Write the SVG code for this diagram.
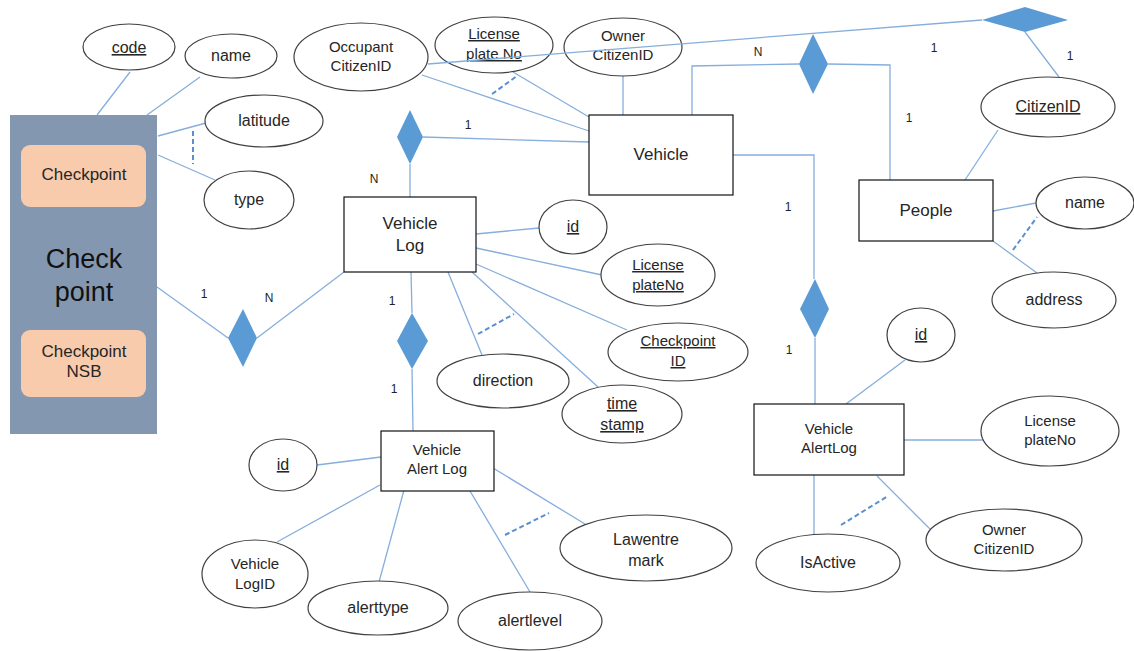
<svg xmlns="http://www.w3.org/2000/svg" width="1134" height="651" viewBox="0 0 1134 651">
<style>
text{font-family:"Liberation Sans",Arial,sans-serif;fill:#262626;text-anchor:middle}
.a{font-size:16px}
.e{font-size:17px}
.s{font-size:15px}
.l{font-size:12px;fill:#222}
.u{text-decoration:underline}
ellipse{fill:#fff;stroke:#404040;stroke-width:1.2}
rect.ent{fill:#fff;stroke:#111;stroke-width:1.2}
.c line,.c polyline{stroke:#86aedc;stroke-width:1.3;fill:none}
.c .d{stroke:#5b8fcf;stroke-width:2;stroke-dasharray:5 3}
.dia{fill:#5b9bd5}
</style>
<rect width="1134" height="651" fill="#fff"/>
<g class="c" id="connectors">
<line x1="97" y1="115" x2="130" y2="72"/>
<line x1="147" y1="115" x2="200" y2="77"/>
<line x1="158" y1="136" x2="206" y2="123"/>
<line x1="158" y1="155" x2="215" y2="180"/>
<line class="d" x1="193" y1="131" x2="193" y2="164"/>
<line x1="422" y1="75" x2="589" y2="131"/>
<line x1="513" y1="72" x2="589" y2="117"/>
<line class="d" x1="492" y1="94" x2="517" y2="76"/>
<line x1="623" y1="76" x2="623" y2="115"/>
<line x1="423" y1="137" x2="589" y2="142"/>
<line x1="410" y1="164" x2="410" y2="197"/>
<polyline points="692,115 692,66 799,64"/>
<polyline points="828,64 890,65 890,180"/>
<polyline points="733,155 814,155 814,279"/>
<line x1="815" y1="338" x2="815" y2="404"/>
<line x1="1025" y1="32" x2="1059" y2="77"/>
<line x1="998" y1="130" x2="965" y2="180"/>
<line x1="993" y1="211" x2="1036" y2="203"/>
<line x1="993" y1="241" x2="1037" y2="273"/>
<line class="d" x1="1013" y1="250" x2="1037" y2="217"/>
<line x1="476" y1="234" x2="539" y2="228"/>
<line x1="476" y1="248" x2="602" y2="275"/>
<line x1="476" y1="264" x2="627" y2="330"/>
<line x1="472" y1="272" x2="598" y2="387"/>
<line x1="448" y1="272" x2="482" y2="355"/>
<line class="d" x1="478" y1="334" x2="514" y2="314"/>
<line x1="157" y1="287" x2="228" y2="338"/>
<line x1="257" y1="338" x2="344" y2="272"/>
<line x1="411" y1="272" x2="412" y2="313"/>
<line x1="412" y1="369" x2="413" y2="431"/>
<line x1="317" y1="465" x2="381" y2="457"/>
<line x1="277" y1="542" x2="380" y2="485"/>
<line x1="379" y1="582" x2="404" y2="490"/>
<line x1="530" y1="592" x2="470" y2="491"/>
<line x1="493" y1="468" x2="585" y2="524"/>
<line class="d" x1="505" y1="535" x2="549" y2="513"/>
<line x1="846" y1="404" x2="905" y2="360"/>
<line x1="904" y1="440" x2="992" y2="440"/>
<line x1="814" y1="475" x2="814" y2="534"/>
<line x1="877" y1="476" x2="936" y2="535"/>
<line class="d" x1="841" y1="525" x2="888" y2="496"/>
<text class="l" x="468" y="129">1</text>
<text class="l" x="374" y="183">N</text>
<text class="l" x="758" y="56">N</text>
<text class="l" x="934" y="52">1</text>
<text class="l" x="1070" y="60">1</text>
<text class="l" x="909" y="122">1</text>
<text class="l" x="788" y="211">1</text>
<text class="l" x="789" y="354">1</text>
<text class="l" x="204" y="298">1</text>
<text class="l" x="269" y="302">N</text>
<text class="l" x="392" y="305">1</text>
<text class="l" x="394" y="393">1</text>
</g>
<g id="checkpoint">
<rect x="10" y="115" width="147" height="319" fill="#8497b0"/>
<rect x="21" y="145" width="125" height="62" rx="9" fill="#f8cbad"/>
<text class="e" x="84" y="180">Checkpoint</text>
<rect x="21" y="330" width="125" height="67" rx="9" fill="#f8cbad"/>
<text class="e" x="84" y="357">Checkpoint</text>
<text class="e" x="84" y="377">NSB</text>
<text x="84" y="268" style="font-size:27px;fill:#111">Check</text>
<text x="84" y="301" style="font-size:27px;fill:#111">point</text>
</g>
<g id="cp-code"><ellipse cx="129" cy="47" rx="46" ry="23"/><text class="a u" x="129" y="53">code</text></g>
<g id="cp-name"><ellipse cx="231" cy="56" rx="46" ry="22"/><text class="a" x="231" y="61">name</text></g>
<g id="cp-latitude"><ellipse cx="264" cy="121" rx="59" ry="26"/><text class="a" x="264" y="126">latitude</text></g>
<g id="cp-type"><ellipse cx="249" cy="200" rx="45" ry="29"/><text class="a" x="249" y="205">type</text></g>
<g id="v-occupant"><ellipse cx="361" cy="57" rx="67" ry="34"/><text class="s" x="361" y="52">Occupant</text><text class="s" x="361" y="71">CitizenID</text></g>
<g id="v-plate"><ellipse cx="494" cy="45" rx="59" ry="28"/><text class="s u" x="494" y="39">License</text><text class="s u" x="494" y="59">plate No</text></g>
<g id="v-owner"><ellipse cx="623" cy="47" rx="59" ry="29"/><text class="s" x="623" y="41">Owner</text><text class="s" x="623" y="60">CitizenID</text></g>
<g id="vehicle"><rect class="ent" x="589" y="115" width="144" height="80"/><text class="e" x="661" y="160">Vehicle</text></g>
<g id="rel-vehicle-people"><polygon class="dia" points="813,34 828,64 813,94 799,64"/></g>
<g id="rel-citizen"><polygon class="dia" points="982,20 1025,7 1068,20 1025,32"/></g>
<g id="rel-vehicle-log"><polygon class="dia" points="410,110 423,137 410,164 397,137"/></g>
<g id="rel-vehicle-alert"><polygon class="dia" points="815,279 829,309 815,338 800,309"/></g>
<g id="rel-cp-log"><polygon class="dia" points="243,309 257,338 243,367 228,338"/></g>
<g id="rel-log-alert"><polygon class="dia" points="412,313 428,341 412,369 397,341"/></g>
<g id="p-citizen"><ellipse cx="1048" cy="107" rx="67" ry="30"/><text class="a u" x="1048" y="112">CitizenID</text></g>
<g id="people"><rect class="ent" x="859" y="180" width="134" height="61"/><text class="e" x="926" y="216">People</text></g>
<g id="p-name"><ellipse cx="1085" cy="203" rx="49" ry="26"/><text class="a" x="1085" y="208">name</text></g>
<g id="p-address"><ellipse cx="1054" cy="300" rx="62" ry="28"/><text class="a" x="1054" y="305">address</text></g>
<g id="vehicle-log"><rect class="ent" x="344" y="197" width="132" height="75"/><text class="e" x="410" y="229">Vehicle</text><text class="e" x="410" y="251">Log</text></g>
<g id="vl-id"><ellipse cx="573" cy="227" rx="34" ry="27"/><text class="a u" x="573" y="232">id</text></g>
<g id="vl-plate"><ellipse cx="658" cy="275" rx="57" ry="31"/><text class="s u" x="658" y="270">License</text><text class="s u" x="658" y="290">plateNo</text></g>
<g id="vl-checkpoint"><ellipse cx="678" cy="352" rx="70" ry="29"/><text class="s u" x="678" y="346">Checkpoint</text><text class="s u" x="678" y="366">ID</text></g>
<g id="vl-time"><ellipse cx="622" cy="414" rx="60" ry="29"/><text class="a u" x="622" y="409">time</text><text class="a u" x="622" y="430">stamp</text></g>
<g id="vl-direction"><ellipse cx="503" cy="381" rx="66" ry="27"/><text class="a" x="503" y="386">direction</text></g>
<g id="vehicle-alert-log"><rect class="ent" x="381" y="431" width="113" height="60"/><text class="s" x="437" y="455">Vehicle</text><text class="s" x="437" y="474">Alert Log</text></g>
<g id="val-id"><ellipse cx="283" cy="465" rx="34" ry="26"/><text class="a u" x="283" y="470">id</text></g>
<g id="val-logid"><ellipse cx="255" cy="574" rx="53" ry="34"/><text class="s" x="255" y="569">Vehicle</text><text class="s" x="255" y="589">LogID</text></g>
<g id="val-type"><ellipse cx="378" cy="608" rx="70" ry="27"/><text class="a" x="378" y="613">alerttype</text></g>
<g id="val-level"><ellipse cx="530" cy="621" rx="72" ry="29"/><text class="a" x="530" y="626">alertlevel</text></g>
<g id="val-remark"><ellipse cx="646" cy="548" rx="86" ry="33"/><text class="a" x="646" y="545">Lawentre</text><text class="a" x="646" y="566">mark</text></g>
<g id="vehicle-alertlog"><rect class="ent" x="754" y="404" width="150" height="71"/><text class="s" x="829" y="434">Vehicle</text><text class="s" x="829" y="453">AlertLog</text></g>
<g id="va-id"><ellipse cx="921" cy="335" rx="34" ry="27"/><text class="a u" x="921" y="340">id</text></g>
<g id="va-plate"><ellipse cx="1050" cy="431" rx="69" ry="35"/><text class="s" x="1050" y="426">License</text><text class="s" x="1050" y="445">plateNo</text></g>
<g id="va-active"><ellipse cx="828" cy="563" rx="72" ry="29"/><text class="a" x="828" y="568">IsActive</text></g>
<g id="va-owner"><ellipse cx="1004" cy="540" rx="78" ry="31"/><text class="s" x="1004" y="535">Owner</text><text class="s" x="1004" y="554">CitizenID</text></g>
<g class="c" id="connectors-over">
<line x1="428" y1="64" x2="982" y2="20"/>
</g>
</svg>
